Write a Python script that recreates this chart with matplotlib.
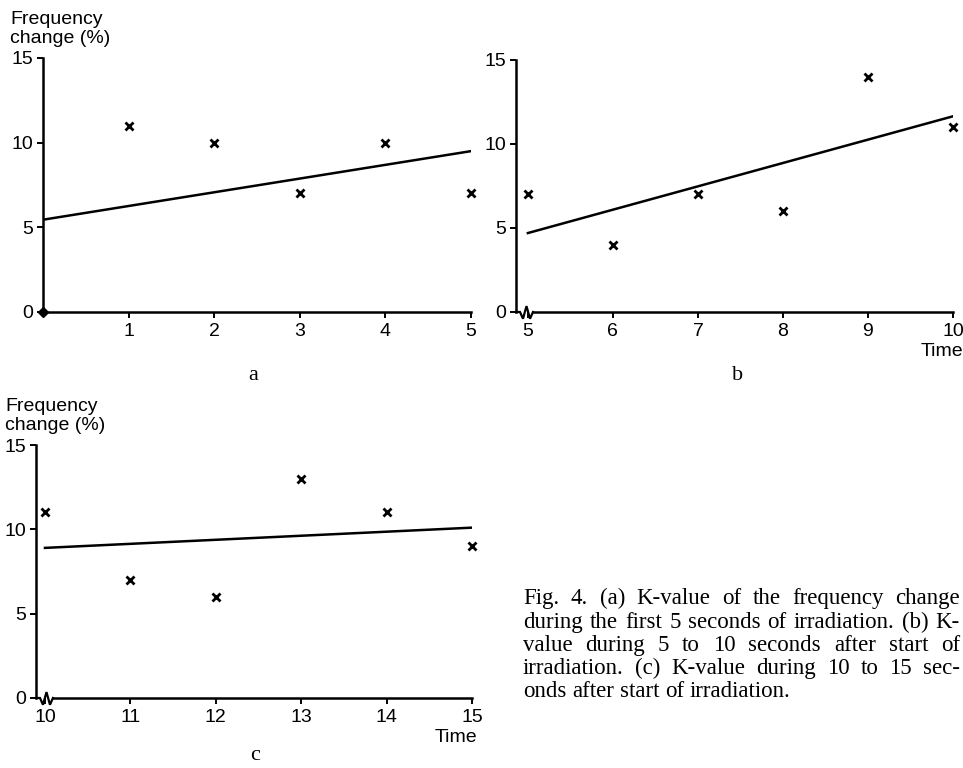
import matplotlib
matplotlib.use("Agg")
import matplotlib.pyplot as plt

# --- data ---
time_a = [1, 2, 3, 4, 5]
freq_a = [11, 10, 7, 10, 7]
fit_x_a = [0, 5]
fit_y_a = [5.45, 9.5]

time_b = [5, 6, 7, 8, 9, 10]
freq_b = [7, 4, 7, 6, 14, 11]
fit_x_b = [5, 10]
fit_y_b = [4.7, 11.65]

time_c = [10, 11, 12, 13, 14, 15]
freq_c = [11, 7, 6, 13, 11, 9]
fit_x_c = [10, 15]
fit_y_c = [8.9, 10.1]

y_ticks = [0, 5, 10, 15]
xticks_a = [1, 2, 3, 4, 5]
xticks_b = [5, 6, 7, 8, 9, 10]
xticks_c = [10, 11, 12, 13, 14, 15]

ylabel = "Frequency\nchange (%)"
xlabel = "Time"
caption_lines = [
    "Fig. 4. (a) K-value of the frequency change",
    "during the first 5 seconds of irradiation. (b) K-",
    "value during 5 to 10 seconds after start of",
    "irradiation. (c) K-value during 10 to 15 sec-",
    "onds after start of irradiation.",
]

SANS = "Liberation Sans"
SERIF = "Liberation Serif"
plt.rcParams["font.family"] = SANS

W, H = 963, 768
fig = plt.figure(figsize=(W / 100, H / 100), dpi=100)


def px_box(left, right, top, bottom):
    return [left / W, 1 - bottom / H, (right - left) / W, (bottom - top) / H]


def style_axes(ax, xlim, xticks, brk):
    ax.set_xlim(*xlim)
    ax.set_ylim(0, 15)
    ax.set_xticks(xticks)
    ax.set_yticks(y_ticks)
    for s in ["top", "right"]:
        ax.spines[s].set_visible(False)
    for s in ["left", "bottom"]:
        ax.spines[s].set_linewidth(1.8)
    ax.spines["left"].set_bounds(0, 15)
    ax.tick_params(direction="out", length=4, width=1.4, labelsize=14, pad=3)
    ax.tick_params(axis="x", pad=4)
    ax.patch.set_visible(False)
    if brk:
        x0 = xlim[0]
        u = (xlim[1] - xlim[0]) / 437.0  # data units per pixel
        zx = [x0, x0 + 4 * u, x0 + 7 * u, x0 + 10.5 * u, x0 + 14 * u, x0 + 17 * u]
        zy = [0, 0, -0.4, 0.35, -0.4, 0]
        ax.plot(zx, zy, color="black", lw=1.6, clip_on=False, solid_joinstyle="miter")
        ax.spines["bottom"].set_bounds(x0 + 17 * u, xlim[1])


# panel a
ax_a = fig.add_axes(px_box(43, 471, 58, 312))
style_axes(ax_a, (0, 5), xticks_a, False)
ax_a.plot(fit_x_a, fit_y_a, color="black", lw=1.8)
ax_a.plot(time_a, freq_a, ls="none", marker="x", ms=5.5, mew=2, color="black", clip_on=False)
ax_a.plot([0], [0], ls="none", marker="D", ms=5, color="black", clip_on=False)

# panel b
ax_b = fig.add_axes(px_box(516, 953, 60, 312))
style_axes(ax_b, (4.86, 10), xticks_b, True)
ax_b.plot(fit_x_b, fit_y_b, color="black", lw=1.8)
ax_b.plot(time_b, freq_b, ls="none", marker="x", ms=5.5, mew=2, color="black", clip_on=False)

# panel c
ax_c = fig.add_axes(px_box(36, 472, 445, 698))
style_axes(ax_c, (9.895, 15), xticks_c, True)
ax_c.plot(fit_x_c, fit_y_c, color="black", lw=1.8)
ax_c.plot(time_c, freq_c, ls="none", marker="x", ms=5.5, mew=2, color="black", clip_on=False)

# axis titles
fig.text(10 / W, 1 - 11 / H, ylabel, ha="left", va="top", fontsize=14, linespacing=1.15)
fig.text(5 / W, 1 - 398 / H, ylabel, ha="left", va="top", fontsize=14, linespacing=1.15)
fig.text(963 / W, 1 - 351 / H, xlabel, ha="right", va="center", fontsize=14)
fig.text(477 / W, 1 - 737 / H, xlabel, ha="right", va="center", fontsize=14)

# panel letters
for lab, (x, y) in zip(["a", "b", "c"], [(253, 375), (738, 375), (255, 756)]):
    fig.text(x / W, 1 - y / H, lab, ha="center", va="center", fontsize=16, family=SERIF)

# justified caption
fig.canvas.draw()
rend = fig.canvas.get_renderer()
cap_left, cap_right = 523, 960
cap_base = [604, 628, 651, 674, 697]
cap_size = 16.5
probe1 = fig.text(0, 0, "a a", fontsize=cap_size, family=SERIF)
probe2 = fig.text(0, 0, "aa", fontsize=cap_size, family=SERIF)
space = probe1.get_window_extent(rend).width - probe2.get_window_extent(rend).width
probe1.remove()
probe2.remove()
for i, line in enumerate(caption_lines):
    words = line.split(" ")
    texts = [fig.text(0, 1 - cap_base[i] / H, w_, fontsize=cap_size, family=SERIF,
                      ha="left", va="baseline") for w_ in words]
    widths = [t.get_window_extent(rend).width for t in texts]
    if i == len(caption_lines) - 1:
        gap = space
    else:
        gap = (cap_right - cap_left - sum(widths)) / (len(words) - 1)
    x = cap_left
    for t, w_ in zip(texts, widths):
        t.set_x(x / W)
        x += w_ + gap

fig.savefig("out.png", dpi=100)
